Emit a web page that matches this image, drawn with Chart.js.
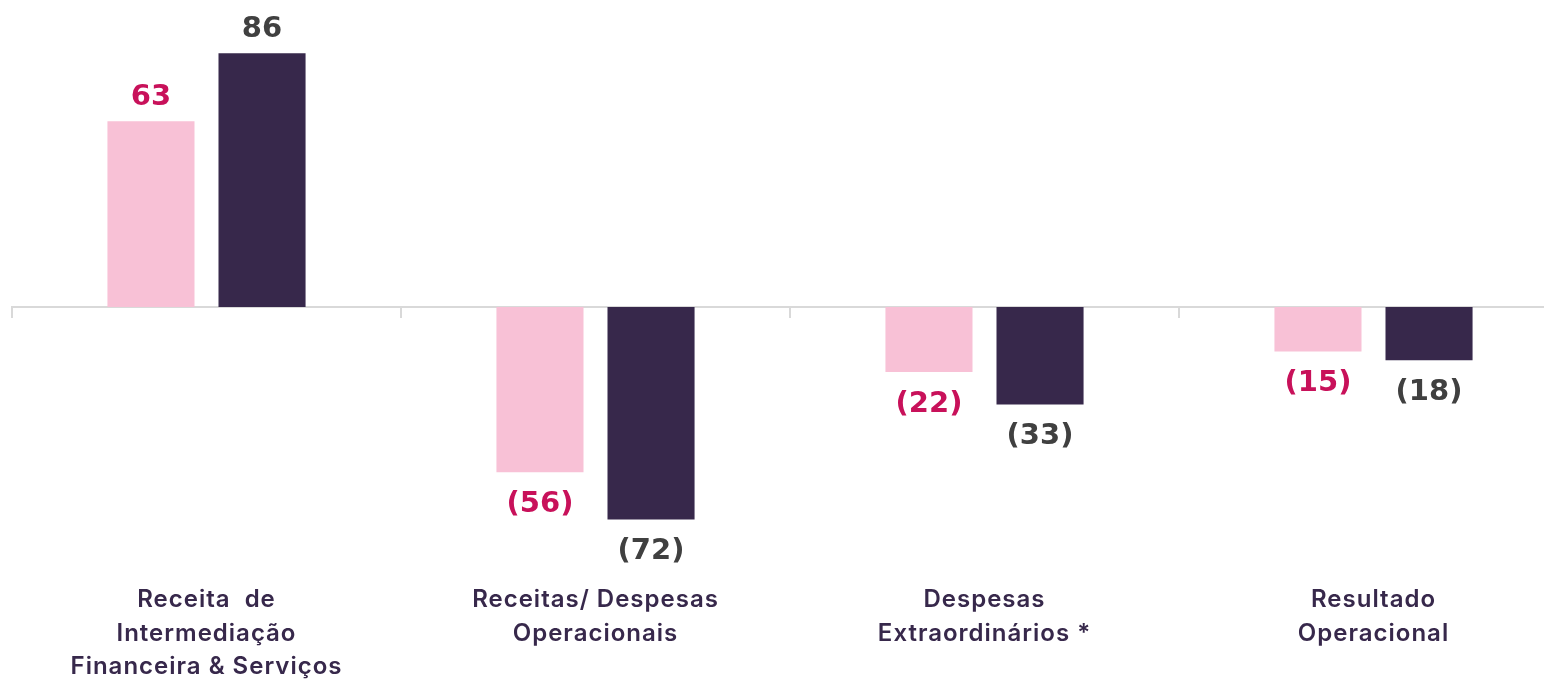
<!DOCTYPE html>
<html>
<head>
<meta charset="utf-8">
<script src="https://cdn.jsdelivr.net/npm/chart.js@4"></script>
<style>
  html, body { margin: 0; padding: 0; background: #fff; overflow: hidden; }
  #wrap { width: 1580px; height: 686px; position: relative; }
</style>
</head>
<body>
<div id="wrap"><canvas id="myChart"></canvas></div>
<script>
// data
const categories = [
    ["Receita  de", "Intermediação", "Financeira & Serviços"],
    ["Receitas/ Despesas", "Operacionais"],
    ["Despesas", "Extraordinários *"],
    ["Resultado", "Operacional"]
];
const seriesA = [63, -56, -22, -15];   // pink
const seriesB = [86, -72, -33, -18];   // dark purple

const PINK = "#F8C1D6";
const PURPLE = "#37284B";
const PINK_LABEL = "#C8115A";
const GREY_LABEL = "#404040";

// wider tracking for the category text
const spacing = {
    id: "spacing",
    beforeLayout(chart) { chart.ctx.letterSpacing = "1px"; },
    beforeDraw(chart) { chart.ctx.letterSpacing = "1px"; }
};

// value labels above / below the bars
const valueLabels = {
    id: "valueLabels",
    afterDatasetsDraw(chart) {
        const ctx = chart.ctx;
        ctx.save();
        ctx.letterSpacing = "0px";
        ctx.font = "bold 29px 'DejaVu Sans'";
        ctx.textAlign = "center";
        ctx.textBaseline = "middle";
        chart.data.datasets.forEach((ds, i) => {
            const meta = chart.getDatasetMeta(i);
            meta.data.forEach((bar, j) => {
                const v = ds.data[j];
                const txt = v < 0 ? "(" + Math.abs(v) + ")" : String(v);
                ctx.fillStyle = ds.labelColor;
                const y = v < 0 ? bar.y + 32 : bar.y - 24;
                ctx.fillText(txt, bar.x, y);
            });
        });
        ctx.restore();
    }
};

window.addEventListener("load", function () {
    const ctx = document.getElementById("myChart").getContext("2d");

    new Chart(ctx, {
        type: "bar",
        data: {
            labels: categories,
            datasets: [
                {
                    data: seriesA,
                    backgroundColor: PINK,
                    labelColor: PINK_LABEL,
                    categoryPercentage: 0.571,
                    barPercentage: 0.784
                },
                {
                    data: seriesB,
                    backgroundColor: PURPLE,
                    labelColor: GREY_LABEL,
                    categoryPercentage: 0.571,
                    barPercentage: 0.784
                }
            ]
        },
        options: {
            responsive: true,
            maintainAspectRatio: false,
            animation: false,
            layout: { padding: { left: 12, right: 12, top: 12, bottom: 0 } },
            plugins: {
                legend: { display: false },
                tooltip: { enabled: false }
            },
            scales: {
                y: {
                    display: false,
                    min: -84,
                    max: 100
                },
                x: {
                    position: { y: 0 },
                    offset: true,
                    ticks: { display: false },
                    grid: {
                        offset: true,
                        drawOnChartArea: false,
                        drawTicks: true,
                        tickLength: 10,
                        color: "#D9D9D9",
                        lineWidth: 2
                    },
                    border: { color: "#D9D9D9", width: 2 }
                },
                x2: {
                    type: "category",
                    position: "bottom",
                    offset: true,
                    grid: { display: false },
                    border: { display: false },
                    afterFit(scale) { scale.height = 131; },
                    ticks: {
                        autoSkip: false,
                        maxRotation: 0,
                        padding: 20,
                        color: PURPLE,
                        font: { family: "Inter", weight: "600", size: 24, lineHeight: 1.4 }
                    }
                }
            }
        },
        plugins: [spacing, valueLabels]
    });
});
</script>
</body>
</html>
